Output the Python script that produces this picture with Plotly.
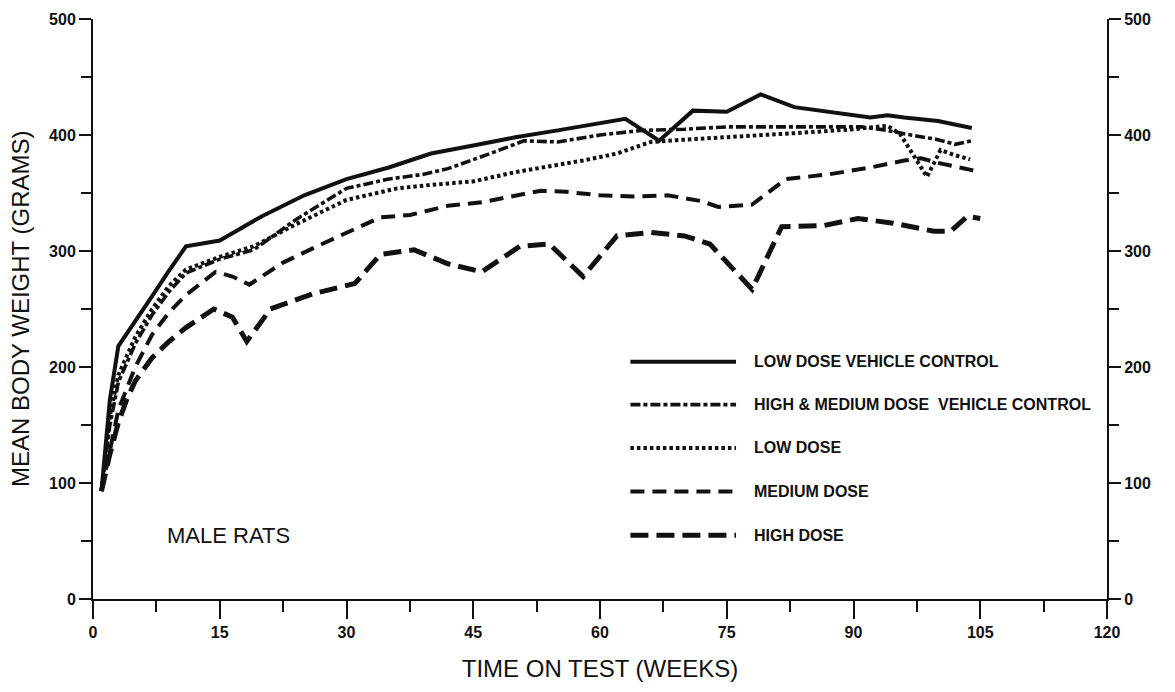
import plotly.graph_objects as go

# ---------------- data ----------------
ldvc_weeks = [1, 2, 3, 5, 7, 9, 11, 15, 20, 25, 30, 35, 40, 45, 50, 55, 60, 63, 67, 71, 75, 79, 83, 87, 92, 94, 96, 100, 104]
ldvc_wt = [93, 172, 218, 239, 261, 283, 304, 309, 330, 348, 362, 372, 384, 391, 398, 404, 410, 414, 395, 421, 420, 435, 424, 420, 415, 417, 415, 412, 406]

hmvc_weeks = [1, 2, 3, 5, 7, 9, 11, 15, 19, 24, 30, 35, 39, 42, 47, 51, 55, 60, 65, 70, 75, 80, 85, 91, 94, 96, 100, 102, 104]
hmvc_wt = [93, 150, 187, 220, 245, 265, 281, 293, 301, 327, 354, 362, 366, 371, 384, 395, 394, 400, 404, 405, 407, 407, 407, 407, 404, 401, 396, 392, 395]

low_weeks = [1, 2, 3, 5, 7, 9, 11, 15, 19, 24, 30, 36, 40, 45, 50, 54, 58, 62, 66, 70, 75, 80, 84, 90, 94, 95.5, 98.7, 100.3, 101.8, 103.8]
low_wt = [93, 158, 193, 226, 250, 270, 284, 295, 304, 323, 344, 354, 357, 360, 368, 373, 378, 384, 394, 396, 398, 400, 402, 405, 408, 401, 364, 387, 383, 379]

med_weeks = [1, 2, 3, 5, 7, 9, 11, 14.5, 16.5, 18.5, 22.5, 26.5, 30, 34, 37.5, 42, 46, 50, 53, 56, 60, 64, 68, 72, 74, 78, 82, 87, 92, 96, 98, 100, 104.5]
med_wt = [93, 130, 163, 200, 228, 247, 262, 282, 278, 271, 290, 304, 316, 329, 331, 339, 342, 348, 352, 351, 348, 347, 348, 343, 338, 340, 362, 366, 372, 378, 380, 376, 369]

high_weeks = [1, 2, 3, 4, 5, 7, 9, 11, 14.3, 16.5, 18.2, 21, 26, 31, 34, 38, 42, 46, 50.5, 54, 58, 62, 66, 70, 73, 78, 81.5, 86.5, 90.5, 94.7, 99.5, 101.5, 103.5, 105]
high_wt = [93, 125, 152, 172, 188, 208, 222, 234, 250, 243, 222, 250, 263, 272, 297, 301, 289, 282, 304, 306, 278, 313, 316, 313, 306, 267, 321, 322, 328, 324, 317, 317, 330, 328]

series_labels = [
    "LOW DOSE VEHICLE CONTROL",
    "HIGH & MEDIUM DOSE  VEHICLE CONTROL",
    "LOW DOSE",
    "MEDIUM DOSE",
    "HIGH DOSE",
]

x_ticks = [0, 15, 30, 45, 60, 75, 90, 105, 120]
y_ticks = [0, 100, 200, 300, 400, 500]

# ---------------- styles ----------------
INK = "#111111"
FONT = "Liberation Sans, Arial, Helvetica, sans-serif"
line_styles = [
    dict(width=4.0, dash="solid"),
    dict(width=3.6, dash="10px,3px,4px,3px"),
    dict(width=4.0, dash="3.5px,3px"),
    dict(width=4.0, dash="14px,8px"),
    dict(width=5.0, dash="18px,8px"),
]

series = [
    (ldvc_weeks, ldvc_wt),
    (hmvc_weeks, hmvc_wt),
    (low_weeks, low_wt),
    (med_weeks, med_wt),
    (high_weeks, high_wt),
]

fig = go.Figure()
for (xs, ys), name, st in zip(series, series_labels, line_styles):
    fig.add_trace(go.Scatter(
        x=xs, y=ys, mode="lines", name=name, showlegend=False,
        line=dict(color=INK, width=st["width"], dash=st["dash"]),
    ))

# invisible trace so the right-hand axis is drawn
fig.add_trace(go.Scatter(x=[None], y=[None], yaxis="y2", showlegend=False, hoverinfo="skip"))

# hand-drawn style legend (samples + labels)
leg_x0, leg_x1, leg_text_x = 63.6, 76.1, 78.0
leg_rows = [204.5, 167.6, 130.2, 92.6, 55.0]
for lbl, st, yy in zip(series_labels, line_styles, leg_rows):
    fig.add_shape(type="line", xref="x", yref="y", x0=leg_x0, x1=leg_x1, y0=yy, y1=yy,
                  line=dict(color=INK, width=st["width"], dash=st["dash"]))
    fig.add_annotation(x=leg_text_x, y=yy, xref="x", yref="y", text=lbl, showarrow=False,
                       xanchor="left", yanchor="middle",
                       font=dict(family=FONT, size=16, color=INK, weight="bold"))

fig.add_annotation(x=16, y=55, xref="x", yref="y", text="MALE RATS", showarrow=False,
                   xanchor="center", yanchor="middle",
                   font=dict(family=FONT, size=22, color=INK))

# y-axis title placed as a rotated annotation so it sits close to the page edge
fig.add_annotation(x=0, y=0.5, xref="paper", yref="paper", text="MEAN BODY WEIGHT (GRAMS)",
                   showarrow=False, textangle=-90, xanchor="center", yanchor="middle",
                   xshift=-73, font=dict(family=FONT, size=24, color=INK))

tickfont = dict(family=FONT, size=16, color=INK, weight="bold")
yaxis_common = dict(
    range=[0, 500], tickvals=y_ticks, ticks="outside", ticklen=12, tickwidth=2,
    tickcolor=INK, showline=True, linecolor=INK, linewidth=2, showgrid=False,
    zeroline=False, tickfont=tickfont, automargin=False, ticklabeloverflow="allow",
    minor=dict(dtick=50, tick0=0, ticks="outside", ticklen=10, tickwidth=2, tickcolor=INK, showgrid=False),
)

# the page adds an 8px body margin, so the figure is sized to fit inside the window
fig.update_layout(
    width=1159, height=676,
    paper_bgcolor="white", plot_bgcolor="white",
    margin=dict(l=85, r=60, t=11, b=85),
    showlegend=False,
    xaxis=dict(
        range=[0, 120], tickvals=x_ticks, ticks="outside", ticklen=18, tickwidth=2,
        tickcolor=INK, showline=True, linecolor=INK, linewidth=2, showgrid=False,
        zeroline=False, tickfont=tickfont, automargin=False, ticklabeloverflow="allow",
        minor=dict(dtick=7.5, tick0=0, ticks="outside", ticklen=11, tickwidth=2, tickcolor=INK, showgrid=False),
        title=dict(text="TIME ON TEST (WEEKS)", font=dict(family=FONT, size=24, color=INK), standoff=20),
    ),
    yaxis=dict(**yaxis_common),
    yaxis2=dict(**yaxis_common, overlaying="y", side="right", anchor="x"),
)

fig.write_html("out.html")
